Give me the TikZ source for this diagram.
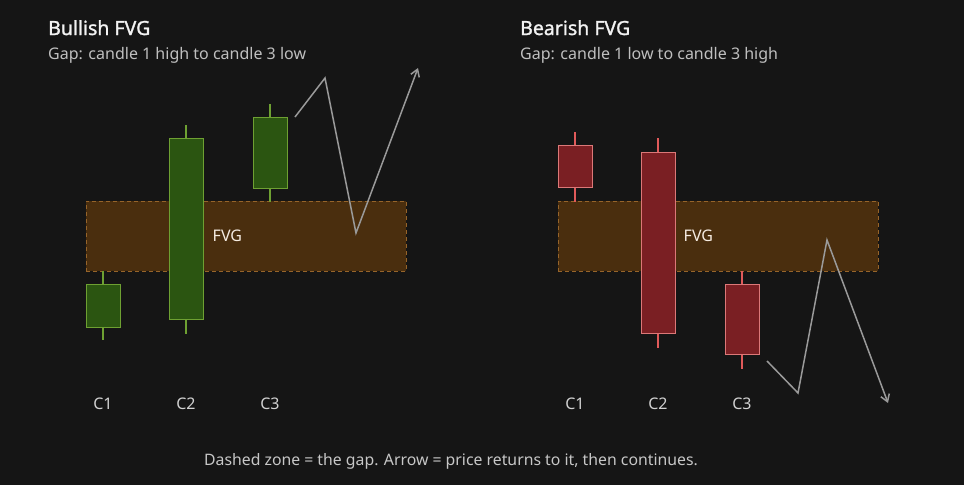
\documentclass[tikz,border=0pt]{standalone}
\usepackage{fontspec}
\setmainfont{Noto Sans}
\newfontfamily\headfont{Noto Sans}[FakeBold=1.3]
\usetikzlibrary{arrows.meta, positioning}

\definecolor{bgdark}{HTML}{151515}
\definecolor{bullfill}{HTML}{2B5511}
\definecolor{bulledge}{HTML}{6EA032}
\definecolor{bearfill}{HTML}{7A1F23}
\definecolor{bearedge}{HTML}{DC7878}
\definecolor{bearwickc}{HTML}{E05A5A}
\definecolor{gapfill}{HTML}{4A2E0E}
\definecolor{gapedge}{HTML}{96642A}
\definecolor{pathgray}{HTML}{9A9A9A}

\begin{document}
\begin{tikzpicture}[x=1pt, y=-1pt,
  bullbody/.style = {rectangle, draw=bulledge, fill=bullfill, line width=1pt, minimum width=34pt, inner sep=0pt},
  bearbody/.style = {rectangle, draw=bearedge, fill=bearfill, line width=1pt, minimum width=34pt, inner sep=0pt},
  bullwick/.style = {draw=bulledge, line width=1.5pt},
  bearwick/.style = {draw=bearwickc, line width=1.5pt},
  gapzone/.style = {rectangle, draw=gapedge, fill=gapfill, dashed, dash pattern=on 4pt off 3pt, line width=0.8pt, minimum width=320pt, minimum height=70pt, inner sep=0pt},
  titlestyle/.style = {anchor=base west, inner sep=0pt, text=white!95!black, font=\fontsize{19.5}{24}\headfont},
  substyle/.style = {anchor=base west, inner sep=0pt, text=white!75!black, font=\fontsize{16}{19}\selectfont},
  fvglabel/.style = {anchor=west, inner sep=0pt, text=white!85!brown, font=\fontsize{16}{19}\selectfont},
  candlelabel/.style = {anchor=base, inner sep=0pt, text=white!82!black, font=\fontsize{16}{19}\selectfont},
  pricepath/.style = {draw=pathgray, line width=1.5pt, line join=miter, -{Straight Barb[length=7pt, width=9pt]}}]

  % background
  \fill[bgdark] (0,0) rectangle (964,485);
  \useasboundingbox (0,0) rectangle (964,485);

  % Bullish
  \node[titlestyle] (bulltitle) at (48,35) {Bullish FVG};
  \node[substyle] (bullsub) at (48,59) {Gap: candle 1 high to candle 3 low};
  \node[gapzone] (bullgap) at (246,236) {};

  \node[bullbody, minimum height=43pt] (bullc1) at (103,305.5) {};
  \node[bullbody, minimum height=181pt] (bullc2) at (186,228.5) {};
  \node[bullbody, minimum height=71pt] (bullc3) at (270,152.5) {};
  \draw[bullwick] (bullc1.north) -- ++(0,-13);
  \draw[bullwick] (bullc1.south) -- ++(0,12);
  \draw[bullwick] (bullc2.north) -- ++(0,-13);
  \draw[bullwick] (bullc2.south) -- ++(0,14);
  \draw[bullwick] (bullc3.north) -- ++(0,-13);
  \draw[bullwick] (bullc3.south) -- ++(0,13);
  \node[fvglabel] (bullfvg) at ([xshift=9pt]bullc2.east |- bullgap.center) {FVG};

  \node[candlelabel] (bulll1) at (103,409) {C1};
  \node[candlelabel] (bulll2) at (186,409) {C2};
  \node[candlelabel] (bulll3) at (270,409) {C3};

  \coordinate (bullp0) at (295,117);
  \coordinate (bullp1) at (325,78);
  \coordinate (bullp2) at (356,233);
  \coordinate (bullp3) at (418,68);
  \draw[pricepath] (bullp0) -- (bullp1) -- (bullp2) -- (bullp3);

  % Bearish
  \node[titlestyle] (beartitle) at (520,35) {Bearish FVG};
  \node[substyle] (bearsub) at (520,59) {Gap: candle 1 low to candle 3 high};
  \node[gapzone] (beargap) at (718,236) {};

  \node[bearbody, minimum height=42pt] (bearc1) at (575,166) {};
  \node[bearbody, minimum height=181pt] (bearc2) at (658,242.5) {};
  \node[bearbody, minimum height=70pt] (bearc3) at (742,319) {};
  \draw[bearwick] (bearc1.north) -- ++(0,-13);
  \draw[bearwick] (bearc1.south) -- ++(0,14);
  \draw[bearwick] (bearc2.north) -- ++(0,-14);
  \draw[bearwick] (bearc2.south) -- ++(0,14);
  \draw[bearwick] (bearc3.north) -- ++(0,-13);
  \draw[bearwick] (bearc3.south) -- ++(0,14);
  \node[fvglabel] (bearfvg) at ([xshift=8pt]bearc2.east |- beargap.center) {FVG};

  \node[candlelabel] (bearl1) at (575,409) {C1};
  \node[candlelabel] (bearl2) at (658,409) {C2};
  \node[candlelabel] (bearl3) at (742,409) {C3};

  \coordinate (bearp0) at (767,361);
  \coordinate (bearp1) at (798,393);
  \coordinate (bearp2) at (827,240);
  \coordinate (bearp3) at (888,403);
  \draw[pricepath] (bearp0) -- (bearp1) -- (bearp2) -- (bearp3);

  % caption
  \node[substyle, anchor=base, text=white!78!black, font=\fontsize{15.8}{19}\selectfont] (caption) at (451,465) {Dashed zone = the gap. Arrow = price returns to it, then continues.};

\end{tikzpicture}
\end{document}
